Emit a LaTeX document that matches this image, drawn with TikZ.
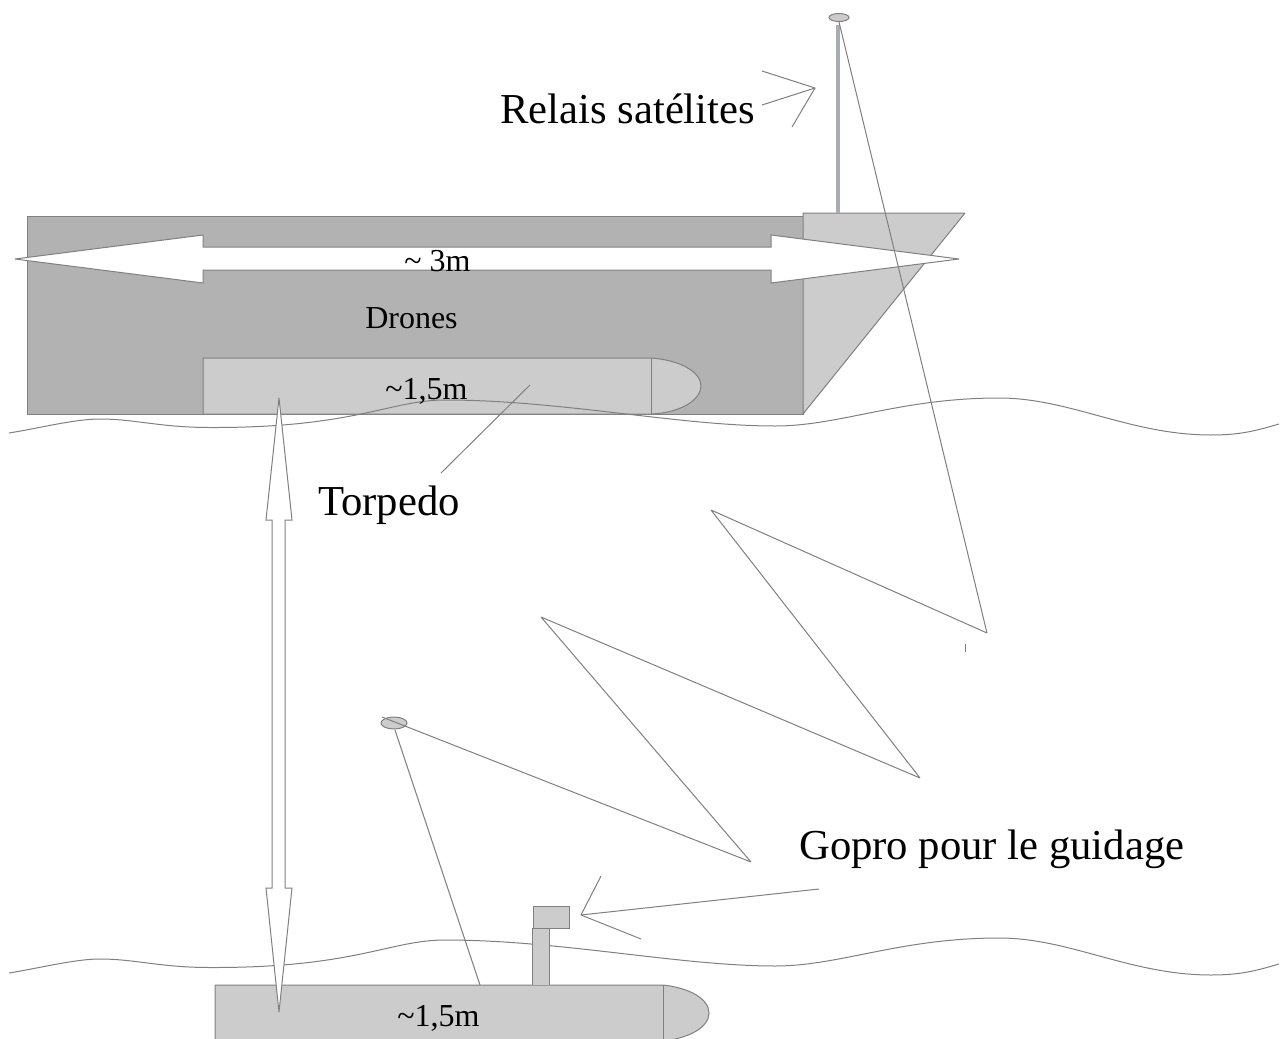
\documentclass[tikz,border=0pt]{standalone}
\usepackage{fontspec}
\setmainfont{Liberation Serif}
\definecolor{hulld}{HTML}{B2B2B2}
\definecolor{hulll}{HTML}{CCCCCC}
\definecolor{edge}{HTML}{808080}
\definecolor{mastc}{HTML}{A8ADB3}
\tikzset{
  ln/.style={draw=edge,line width=0.75pt,line join=miter,miter limit=2},
  dark/.style={ln,fill=hulld},
  light/.style={ln,fill=hulll},
  blank/.style={ln,fill=white},
  bigt/.style={anchor=base west,inner sep=0pt,font=\fontsize{32}{36}\selectfont},
  smallt/.style={anchor=base west,inner sep=0pt,font=\fontsize{24}{28}\selectfont}
}
\newcommand{\wavepath}{(9,433) .. controls (40,428) and (75,419) .. (100,419) .. controls (135,419) and (160,427.5) .. (210,427.5) .. controls (355,428) and (390,400) .. (445,400) .. controls (560,400) and (680,426) .. (775,426) .. controls (840,426) and (900,398) .. (999,398) .. controls (1070,398) and (1130,435) .. (1211,435) .. controls (1240,435) and (1255,431) .. (1279,424)}
\begin{document}
\begin{tikzpicture}[x=0.75pt,y=-0.75pt]
\path[clip] (0,0) rectangle (1283,1039);
\fill[white] (0,0) rectangle (1283,1039);
% ship
\path[dark] (27,216) rectangle (803,414);
\path[light] (803,213) -- (965,213) -- (803,414) -- cycle;
\path[light] (203,358) -- (651,358) .. controls (680,360) and (701,372) .. (701,386) .. controls (701,400) and (680,413) .. (651,414) -- (203,414) -- cycle;
\draw[ln] (651,358) -- (651,414);
% mast and antenna
\draw[mastc,line width=2.4pt] (838,25) -- (838,213);
\path[light] (839,17.5) ellipse [x radius=10,y radius=4];
% horizontal arrow
\path[blank] (15,259) -- (203,235) -- (203,247) -- (771,247) -- (771,235) -- (959,259) -- (771,283) -- (771,270) -- (203,270) -- (203,283) -- cycle;
% waves
\draw[ln] \wavepath;
\begin{scope}[shift={(0,540)}]
\draw[ln] \wavepath;
\end{scope}
% submarine
\path[light] (215,985) -- (663,985) .. controls (690,988) and (709,999) .. (709,1013) .. controls (709,1027) and (690,1038) .. (663,1041) -- (215,1041) -- cycle;
\draw[ln] (663,985) -- (663,1041);
\path[light] (532,985) -- (532,928) -- (549,928) -- (549,985);
\path[light] (533,906) rectangle (569,928);
\path[light] (394,723) ellipse [x radius=13,y radius=6];
% zigzag
\draw[ln] (839,22) -- (987,633) -- (711,510) -- (920,778) -- (541,617) -- (751,862) -- (382,717);
\draw[ln] (965,644) -- (965,652);
\draw[ln] (395,730) -- (480,985);
% vertical arrow
\path[blank] (279,398) -- (292,520) -- (285,520) -- (285,888) -- (292,888) -- (279,1012) -- (266,888) -- (272,888) -- (272,520) -- (266,520) -- cycle;
% leaders
\draw[ln] (762,71) -- (815,88) -- (762,105);
\draw[ln] (792,127) -- (815,88);
\draw[ln] (530,385) -- (441,473);
\draw[ln] (819,889) -- (581,915) -- (601,876);
\draw[ln] (581,915) -- (641,939);
% texts
\node[bigt] (relais) at (500,123) {Relais satélites};
\node[bigt] (torpedo) at (318,515) {Torpedo};
\node[bigt] (gopro) at (799,859) {Gopro pour le guidage};
\node[smallt] (trois) at (404,271) {\char`\~\ 3m};
\node[smallt] (drones) at (365,328) {Drones};
\node[smallt] (torplen) at (385,399) {\char`\~1,5m};
\node[smallt] (sublen) at (397,1026) {\char`\~1,5m};
\end{tikzpicture}
\end{document}
